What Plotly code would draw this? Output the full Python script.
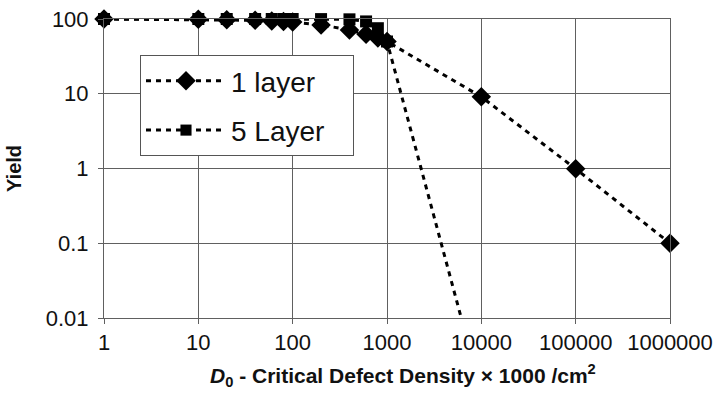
import plotly.graph_objects as go

# Data
density_1 = [1, 10, 20, 40, 60, 80, 100, 200, 400, 600, 800, 1000, 10000, 100000, 1000000]
yield_1 = [99.9, 99, 98, 96.2, 94.3, 92.6, 90.9, 83.3, 71.4, 62.5, 55.6, 50, 9.1, 0.99, 0.1]

density_5 = [1, 10, 20, 40, 60, 80, 100, 200, 400, 600, 800, 1000, 10000]
yield_5 = [100, 100, 100, 100, 100, 100, 100, 99.7, 99, 92.8, 75.3, 50, 0.001]

x_ticks = [1, 10, 100, 1000, 10000, 100000, 1000000]
x_ticktext = ["1", "10", "100", "1000", "10000", "100000", "1000000"]
y_ticks = [0.01, 0.1, 1, 10, 100]
y_ticktext = ["0.01", "0.1", "1", "10", "100"]

x_title = "<b><i>D</i><sub>0</sub> - Critical Defect Density × 1000 /cm<sup>2</sup></b>"
y_title = "<b>Yield</b>"

Y_MIN = 0.01
INK = "#000000"
TXT = "#111111"
GRID = "#606060"
FONT = "Liberation Sans, Arial, sans-serif"

def sizes(vals, s):
    return [s if v >= Y_MIN else 0 for v in vals]

fig = go.Figure()
fig.add_trace(go.Scatter(
    x=density_1, y=yield_1, name="1 layer\u00a0\u00a0\u00a0", mode="lines+markers",
    line=dict(color=INK, width=3, dash="5px,5px"),
    marker=dict(symbol="diamond", size=sizes(yield_1, 15), color=INK, opacity=1,
                line=dict(width=0, color=INK)),
    opacity=1, cliponaxis=False, legendgroup="a",
))
fig.add_trace(go.Scatter(
    x=density_5, y=yield_5, name="5 Layer\u00a0\u00a0\u00a0", mode="lines+markers",
    line=dict(color=INK, width=3, dash="5px,5px"),
    marker=dict(symbol="square", size=sizes(yield_5, 12), color=INK, opacity=1,
                line=dict(width=0, color=INK)),
    opacity=1, cliponaxis=False, legendgroup="b",
))

fig.update_layout(
    width=717, height=394,
    margin=dict(l=104, r=47, t=19, b=76, autoexpand=False),
    paper_bgcolor="white", plot_bgcolor="white",
    font=dict(family=FONT, color=INK, size=20),
    showlegend=True,
    legend=dict(
        x=(140 - 104) / 566, y=1 - (55 - 19) / 299, xanchor="left", yanchor="top",
        bgcolor="white", bordercolor="#555555", borderwidth=1,
        font=dict(size=28, family=FONT, color=TXT),
        itemwidth=80, tracegroupgap=10,
    ),
    xaxis=dict(
        type="log", range=[0, 6], automargin=False,
        tickvals=x_ticks, ticktext=x_ticktext,
        showgrid=True, gridcolor=GRID, gridwidth=1,
        showline=True, linecolor=GRID, linewidth=1, mirror=True,
        ticks="outside", ticklen=5, tickcolor=GRID,
        tickfont=dict(size=22, family=FONT, color=TXT),
    ),
    yaxis=dict(
        type="log", range=[-2, 2], automargin=False,
        tickvals=y_ticks, ticktext=y_ticktext,
        showgrid=True, gridcolor=GRID, gridwidth=1,
        showline=True, linecolor=GRID, linewidth=1, mirror=True,
        ticks="outside", ticklen=5, tickcolor=GRID,
        tickfont=dict(size=22, family=FONT, color=TXT),
        ticklabelstandoff=5,
        title=dict(text=y_title, font=dict(size=20, family=FONT, color=TXT), standoff=18),
    ),
    annotations=[dict(
        text=x_title, xref="paper", yref="paper", x=0.5, y=0,
        xanchor="center", yanchor="middle", xshift=16, yshift=-57,
        showarrow=False, font=dict(size=21, family=FONT, color=TXT),
    )],
)

fig.write_html("out.html")
